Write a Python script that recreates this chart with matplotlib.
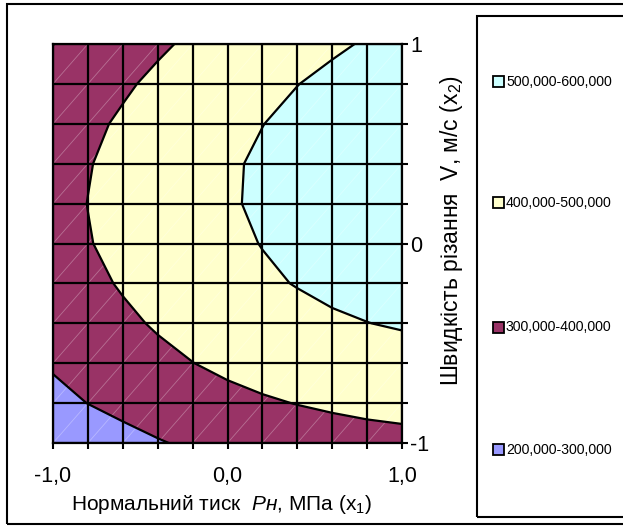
import numpy as np
import matplotlib
matplotlib.use("Agg")
import matplotlib.pyplot as plt
from matplotlib.patches import Rectangle
from matplotlib.ticker import FixedLocator, FixedFormatter

# coded factor levels
x1_levels = [-1.0, -0.8, -0.6, -0.4, -0.2, 0.0, 0.2, 0.4, 0.6, 0.8, 1.0]
x2_levels = [-1.0, -0.8, -0.6, -0.4, -0.2, 0.0, 0.2, 0.4, 0.6, 0.8, 1.0]

# response values, thousands; one row per x2 level (from -1 up to 1)
resp = [
    [224, 250, 273, 294, 313, 330, 344, 356, 366, 374, 379],
    [276, 301, 323, 344, 362, 377, 391, 402, 411, 418, 423],
    [309, 335, 359, 380, 399, 417, 431, 444, 454, 462, 468],
    [332, 360, 385, 408, 429, 448, 464, 478, 490, 499, 507],
    [353, 381, 407, 431, 452, 472, 489, 503, 516, 526, 534],
    [368, 396, 422, 445, 466, 485, 502, 516, 528, 538, 546],
    [372, 401, 427, 451, 473, 493, 510, 525, 538, 549, 557],
    [366, 396, 423, 448, 471, 491, 510, 526, 540, 551, 561],
    [353, 383, 411, 436, 459, 480, 499, 516, 530, 542, 552],
    [330, 361, 389, 416, 440, 462, 481, 499, 514, 527, 538],
    [299, 331, 361, 388, 413, 436, 456, 475, 491, 505, 516],
]

band_edges = [200, 300, 400, 500, 600]
band_colors = ["#9999FF", "#993366", "#FFFFCC", "#CCFFFF"]
band_labels = ["200,000-300,000", "300,000-400,000",
               "400,000-500,000", "500,000-600,000"]

W, H = 623, 527

base = "Liberation Sans"
plt.rcParams["font.family"] = [base, "DejaVu Sans"]
plt.rcParams["mathtext.fontset"] = "custom"
plt.rcParams["mathtext.rm"] = base
plt.rcParams["mathtext.it"] = base + ":italic"


def fx(px):
    return px / W


def fy(py):
    return 1 - py / H


fig = plt.figure(figsize=(W / 100, H / 100), dpi=100)
fig.patch.set_facecolor("white")

# outer chart frame and legend box (both run off the right edge)
fig.add_artist(Rectangle((fx(7), fy(524)), fx(640) - fx(7), fy(4) - fy(524),
                         transform=fig.transFigure, fill=False, ec="k", lw=1.5))
fig.add_artist(Rectangle((fx(477), fy(517)), fx(640) - fx(477), fy(16) - fy(517),
                         transform=fig.transFigure, fill=False, ec="k", lw=1.5))

ax = fig.add_axes([fx(53), fy(443), fx(402) - fx(53), fy(44) - fy(443)])

X, Y = np.meshgrid(x1_levels, x2_levels)
Z = np.array(resp, dtype=float)

ax.contourf(X, Y, Z, levels=band_edges, colors=band_colors, zorder=1)

# faint seams along the cell diagonals
for k in np.arange(-2.0, 2.01, 0.2):
    ax.plot([-1, 1], [-1 + k, 1 + k], color="white", alpha=0.3, lw=0.6,
            zorder=1.5)

ax.contour(X, Y, Z, levels=band_edges[1:-1], colors="k", linewidths=1.6,
           zorder=2)

ax.set_xlim(-1, 1)
ax.set_ylim(-1, 1)

ax.xaxis.set_major_locator(FixedLocator(x1_levels))
ax.xaxis.set_major_formatter(FixedFormatter(
    ["-1,0" if v == -1 else "0,0" if v == 0 else "1,0" if v == 1 else ""
     for v in x1_levels]))
ax.yaxis.tick_right()
ax.yaxis.set_major_locator(FixedLocator(x2_levels))
ax.yaxis.set_major_formatter(FixedFormatter(
    ["-1" if v == -1 else "0" if v == 0 else "1" if v == 1 else ""
     for v in x2_levels]))

ax.tick_params(axis="x", direction="out", length=4.5, width=1.5,
               pad=12, labelsize=15.5)
ax.tick_params(axis="y", direction="out", length=4.5, width=1.5,
               pad=1.5, labelsize=15.5)
ax.grid(True, color="k", lw=1.6)
ax.set_axisbelow(False)
for s in ax.spines.values():
    s.set_linewidth(1.6)
    s.set_zorder(3)

fig.text(fx(222), fy(505),
         r"Нормальний тиск  $\mathit{Pн}$, МПа (x$_1$)",
         ha="center", va="center", fontsize=15)
fig.text(fx(451), fy(231),
         r"Швидкість різання  V, м/с (x$_2$)",
         ha="center", va="center", rotation=90, fontsize=16.5)

# legend, highest band on top
leg_y = [449.5, 327, 202.7, 81.7]
for col, lab, py in zip(band_colors, band_labels, leg_y):
    fig.add_artist(Rectangle((fx(493), fy(py + 5.5)), fx(504) - fx(493),
                             fy(py - 5.5) - fy(py + 5.5),
                             transform=fig.transFigure, fc=col, ec="k",
                             lw=1.3))
    fig.text(fx(506), fy(py), lab, ha="left", va="center", fontsize=10.2)

fig.savefig("out.png", dpi=100)
